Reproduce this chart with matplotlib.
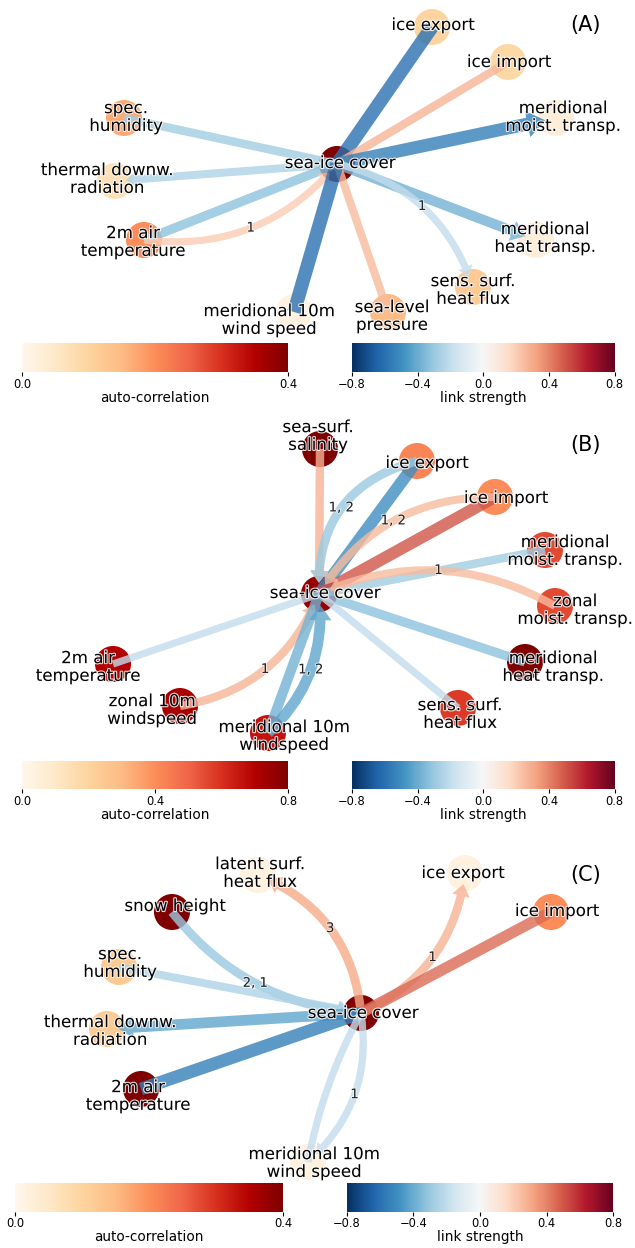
import numpy as np
import matplotlib
matplotlib.use("Agg")
import matplotlib.pyplot as plt
from matplotlib.patches import Circle, FancyArrowPatch, ArrowStyle
import matplotlib.patheffects as pe
from matplotlib import colors, cm

# ---------------- data ----------------
# Panel A
names_A = ["sea-ice cover", "ice export", "ice import", "meridional\nmoist. transp.",
           "spec.\nhumidity", "thermal downw.\nradiation", "2m air\ntemperature",
           "meridional\nheat transp.", "sens. surf.\nheat flux", "sea-level\npressure",
           "meridional 10m\nwind speed"]
autocorr_A = [0.40, 0.10, 0.09, 0.03, 0.17, 0.07, 0.20, 0.03, 0.12, 0.15, 0.02]
link_src_A = [0, 0, 0, 4, 0, 6, 6, 0, 0, 9, 10]
link_tgt_A = [1, 2, 3, 0, 5, 0, 0, 7, 8, 0, 0]
link_val_A = [-0.60, 0.27, -0.55, -0.28, -0.25, -0.33, 0.20, -0.38, -0.20, 0.25, -0.60]
link_lag_A = ["", "", "", "", "", "", "1", "", "1", "", ""]

# Panel B
names_B = ["sea-ice cover", "sea-surf.\nsalinity", "ice export", "ice import",
           "meridional\nmoist. transp.", "zonal\nmoist. transp.", "2m air\ntemperature",
           "meridional\nheat transp.", "zonal 10m\nwindspeed", "sens. surf.\nheat flux",
           "meridional 10m\nwindspeed"]
autocorr_B = [0.75, 0.80, 0.42, 0.40, 0.55, 0.55, 0.70, 0.80, 0.72, 0.58, 0.66]
link_src_B = [1, 2, 2, 3, 3, 0, 5, 0, 0, 6, 8, 10, 10]
link_tgt_B = [0, 0, 0, 0, 0, 4, 0, 7, 9, 0, 0, 0, 0]
link_val_B = [0.28, -0.50, -0.30, 0.50, 0.25, -0.28, 0.25, -0.33, -0.20, -0.20, 0.27, -0.38, -0.42]
link_lag_B = ["", "", "1, 2", "", "1, 2", "", "1", "", "", "", "1", "", "1, 2"]

# Panel C
names_C = ["sea-ice cover", "latent surf.\nheat flux", "ice export", "ice import",
           "snow height", "spec.\nhumidity", "thermal downw.\nradiation",
           "2m air\ntemperature", "meridional 10m\nwind speed"]
autocorr_C = [0.40, 0.02, 0.02, 0.20, 0.40, 0.12, 0.12, 0.40, 0.02]
link_src_C = [0, 0, 0, 4, 5, 0, 7, 0, 0]
link_tgt_C = [1, 2, 3, 0, 0, 6, 0, 8, 8]
link_val_C = [0.30, 0.28, 0.45, -0.30, -0.25, -0.42, -0.55, -0.20, -0.20]
link_lag_C = ["3", "1", "", "2, 1", "", "", "", "", "1"]

panel_titles = ["(A)", "(B)", "(C)"]
node_vmax = [0.4, 0.8, 0.4]
node_ticks = [[0.0, 0.4], [0.0, 0.4, 0.8], [0.0, 0.4]]
link_ticks = [-0.8, -0.4, 0.0, 0.4, 0.8]

# ---------------- layout (pixel coords) ----------------
pos_A = [(337, 164), (432, 27), (508, 62), (556, 118), (124, 118), (115, 181),
         (144, 240), (536, 240), (473, 287), (388, 312), (294, 312)]
lab_A = [(340, 163), (433, 25), (509, 62), (563, 117), (126, 117), (107, 179),
         (133, 242), (545, 238), (473, 290), (392, 316), (269, 320)]
rad_A = [0, 0, 0, 0, 0, 0, 0.27, 0, -0.28, 0, 0]
arr_A = [False, False, True, False, True, False, True, True, True, False, False]

pos_B = [(319, 594), (320, 449), (417, 461), (495, 497), (545, 550), (555, 606),
         (113, 664), (525, 662), (180, 706), (458, 708), (268, 733)]
lab_B = [(325, 593), (318, 436), (427, 463), (506, 498), (565, 551), (575, 610),
         (88, 667), (553, 667), (152, 710), (460, 714), (284, 736)]
rad_B = [0, 0, 0.4, 0, 0.28, 0, 0.25, 0, 0, 0, 0.28, 0, 0.25]
arr_B = [True, False, True, False, True, False, True, False, False, False, True, False, True]

pos_C = [(361, 1013), (258, 875), (465, 873), (551, 912), (172, 912), (119, 967),
         (107, 1029), (141, 1089), (308, 1162)]
lab_C = [(363, 1013), (260, 873), (463, 873), (557, 911), (175, 906), (120, 963),
         (110, 1031), (138, 1096), (314, 1163)]
rad_C = [0.3, 0.28, 0, 0.22, 0, 0, 0, 0.08, -0.27]
arr_C = [True, True, False, True, True, True, False, False, True]

title_pos = [(586, 25), (586, 445), (586, 875)]

# colorbar boxes (fig fraction: left, bottom, width, height)
cb_node = [[0.035, 0.7019, 0.419, 0.0232], [0.035, 0.3678, 0.419, 0.0224], [0.024, 0.0290, 0.422, 0.0232]]
cb_link = [[0.554, 0.7019, 0.414, 0.0232], [0.554, 0.3678, 0.414, 0.0224], [0.546, 0.0290, 0.420, 0.0232]]

W, H = 635, 1248
fig = plt.figure(figsize=(W / 100, H / 100), dpi=100)
ax = fig.add_axes([0, 0, 1, 1])
ax.set_xlim(0, W)
ax.set_ylim(H, 0)
ax.axis("off")

node_cmap = plt.get_cmap("OrRd")
link_cmap = plt.get_cmap("RdBu_r")
link_norm = colors.Normalize(-0.8, 0.8)
PT = 72 / 100.0  # px -> pt
NODE_R = 18
EDGE_ALPHA = 0.8
stroke = [pe.withStroke(linewidth=1.6, foreground="white", alpha=0.85)]


def draw_panel(names, ac, src, tgt, val, lag, pos, lab, rad, arr, vmax):
    nnorm = colors.Normalize(0, vmax)
    for i, n in enumerate(names):
        ax.add_patch(Circle(pos[i], NODE_R, facecolor=node_cmap(nnorm(ac[i])),
                            edgecolor="none", zorder=1))
    for k in range(len(src)):
        p1, p2 = pos[src[k]], pos[tgt[k]]
        v = val[k]
        col = link_cmap(link_norm(v))
        w = 4 + 16 * abs(v)
        cs = f"arc3,rad={rad[k]}"
        if arr[k]:
            style = ArrowStyle.Simple(head_length=1.4 * w * PT, head_width=2.1 * w * PT,
                                      tail_width=w * PT)
            fa = FancyArrowPatch(p1, p2, arrowstyle=style, connectionstyle=cs,
                                 mutation_scale=1, facecolor=col, edgecolor="none",
                                 linewidth=0, alpha=EDGE_ALPHA, shrinkA=0, shrinkB=8,
                                 zorder=2)
        else:
            fa = FancyArrowPatch(p1, p2, arrowstyle="-", connectionstyle=cs,
                                 color=col, linewidth=w * PT, alpha=EDGE_ALPHA,
                                 shrinkA=0, shrinkB=0, zorder=2)
            fa.set_capstyle("butt")
        ax.add_patch(fa)
        if lag[k]:
            x12, y12 = (p1[0] + p2[0]) / 2, (p1[1] + p2[1]) / 2
            dx, dy = p2[0] - p1[0], p2[1] - p1[1]
            lx = x12 - 0.5 * rad[k] * dy
            ly = y12 + 0.5 * rad[k] * dx
            ax.text(lx, ly, lag[k], fontsize=9.5, color="#222222", ha="center",
                    va="center", zorder=4,
                    path_effects=[pe.withStroke(linewidth=1.5, foreground="white", alpha=0.6)])
    for i, n in enumerate(names):
        ax.text(lab[i][0], lab[i][1], n, fontsize=12, ha="center", va="center",
                color="black", zorder=5, linespacing=0.98, path_effects=stroke)


panels = [
    (names_A, autocorr_A, link_src_A, link_tgt_A, link_val_A, link_lag_A, pos_A, lab_A, rad_A, arr_A),
    (names_B, autocorr_B, link_src_B, link_tgt_B, link_val_B, link_lag_B, pos_B, lab_B, rad_B, arr_B),
    (names_C, autocorr_C, link_src_C, link_tgt_C, link_val_C, link_lag_C, pos_C, lab_C, rad_C, arr_C),
]

for p, args in enumerate(panels):
    draw_panel(*args, node_vmax[p])
    ax.text(title_pos[p][0], title_pos[p][1], panel_titles[p], fontsize=15,
            ha="center", va="center")
    # node colorbar
    cax = fig.add_axes(cb_node[p])
    sm = cm.ScalarMappable(norm=colors.Normalize(0, node_vmax[p]), cmap=node_cmap)
    cb = fig.colorbar(sm, cax=cax, orientation="horizontal")
    cb.set_ticks(node_ticks[p])
    cb.ax.tick_params(labelsize=8.3, length=3, width=0.8, pad=1)
    cb.outline.set_visible(False)
    cb.set_label("auto-correlation", fontsize=9.8, labelpad=0)
    # link colorbar
    cax2 = fig.add_axes(cb_link[p])
    sm2 = cm.ScalarMappable(norm=link_norm, cmap=link_cmap)
    cb2 = fig.colorbar(sm2, cax=cax2, orientation="horizontal")
    cb2.set_ticks(link_ticks)
    cb2.ax.tick_params(labelsize=8.3, length=3, width=0.8, pad=1)
    cb2.outline.set_visible(False)
    cb2.set_label("link strength", fontsize=9.8, labelpad=0)

fig.savefig("out.png", dpi=100)
